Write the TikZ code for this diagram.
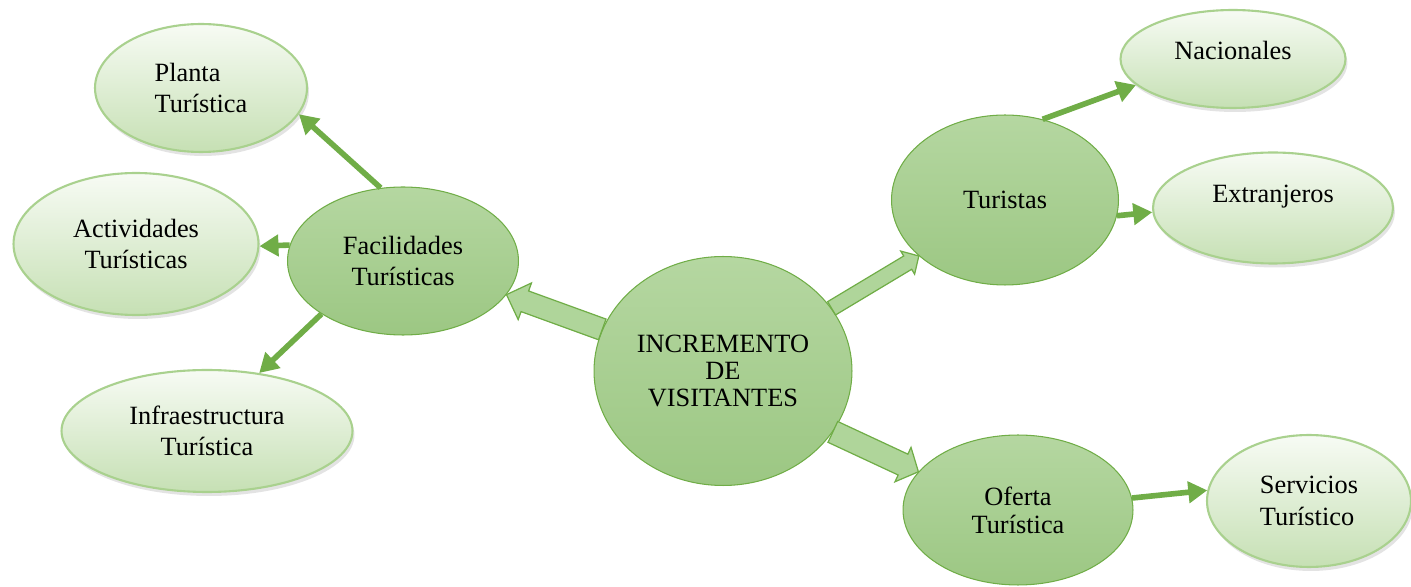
\documentclass[tikz,border=0pt]{standalone}
\usepackage{fontspec}
\setmainfont{Liberation Serif}
\usetikzlibrary{shapes.geometric}
\usetikzlibrary{calc}
\usetikzlibrary{shadows}
\usetikzlibrary{arrows.meta}

\definecolor{darktop}{HTML}{B5D7A1}
\definecolor{darkbot}{HTML}{9CC783}
\definecolor{darkline}{HTML}{70AD47}
\definecolor{lighttop}{HTML}{F7FBF4}
\definecolor{lightbot}{HTML}{C6E0B4}
\definecolor{lightline}{HTML}{A9D18E}
\definecolor{linkgreen}{HTML}{70AD47}
\definecolor{blockfill}{HTML}{AFD59A}

\tikzset{
  mainnode/.style={ellipse, draw=darkline, line width=0.6pt, top color=darktop, bottom color=darkbot,
    inner sep=0pt, align=center, font=\fontsize{15pt}{18pt}\selectfont},
  subnode/.style={ellipse, draw=lightline, line width=1.2pt, top color=lighttop, bottom color=lightbot,
    inner sep=0pt, align=center, font=\fontsize{15pt}{18pt}\selectfont,
    drop shadow={shadow xshift=0.04cm, shadow yshift=-0.08cm, opacity=0.18, fill=black!60}},
  linkarrow/.style={draw=linkgreen, line width=3.2pt, -{Triangle[length=0.38cm, width=0.42cm]}},
  bigarrow/.style={draw=darkline, line width=0.7pt, fill=blockfill, line join=miter}
}

% wide arrow: from, to, name, half shaft, half head, head length
\newcommand{\blockarrow}[6]{%
  \coordinate (#3-base) at ($(#2)!#6!(#1)$);
  \draw[bigarrow] ($(#1)!#4!90:(#2)$) -- ($(#3-base)!#4!90:(#2)$) -- ($(#3-base)!#5!90:(#2)$)
    -- (#2) -- ($(#3-base)!#5!-90:(#2)$) -- ($(#3-base)!#4!-90:(#2)$) -- ($(#1)!#4!-90:(#2)$) -- cycle;
}

\begin{document}
\begin{tikzpicture}[x=0.02cm, y=-0.02cm]
	\useasboundingbox (0,0) rectangle (1411,587);
	% centre
	\node[mainnode, minimum width=5.16cm, minimum height=4.58cm, font=\fontsize{15pt}{15.4pt}\selectfont] (inc) at (723,371) {INCREMENTO\\DE\\VISITANTES};
	\node[mainnode, minimum width=4.62cm, minimum height=2.96cm] (fac) at (403,261) {Facilidades\\Turísticas};
	\node[mainnode, minimum width=4.54cm, minimum height=3.4cm] (tur) at (1005,200) {Turistas};
	\node[mainnode, minimum width=4.6cm, minimum height=3cm, font=\fontsize{15pt}{16pt}\selectfont] (oferta) at (1018,510) {Oferta\\Turística};
	% leaves
	\node[subnode, minimum width=4.24cm, minimum height=2.56cm, align=left] (planta) at (201,88) {Planta\\Turística};
	\node[subnode, minimum width=4.9cm, minimum height=2.84cm] (act) at (136,244) {Actividades\\Turísticas};
	\node[subnode, minimum width=5.82cm, minimum height=2.44cm] (infra) at (207,431) {Infraestructura\\Turística};
	\node[subnode, minimum width=4.5cm, minimum height=1.96cm, text depth=0.36cm] (nac) at (1233,59) {Nacionales};
	\node[subnode, minimum width=4.8cm, minimum height=2.22cm, text depth=0.56cm] (ext) at (1273,208) {Extranjeros};
	\node[subnode, minimum width=4.08cm, minimum height=2.64cm, align=left] (serv) at (1309,501) {Servicios\\Turístico};
	% wide arrows
	\blockarrow{inc.161}{fac.-18}{ba1}{0.22cm}{0.39cm}{0.39cm}
	\blockarrow{inc.30}{tur.213}{ba2}{0.155cm}{0.27cm}{0.26cm}
	\blockarrow{inc.-29}{oferta.159}{ba3}{0.23cm}{0.38cm}{0.34cm}
	% thin arrows
	\draw[linkarrow] (fac.107) -- (planta.-15);
	\draw[linkarrow] (fac.172) -- (act.-1);
	\draw[linkarrow] (fac.213) -- (infra.48);
	\draw[linkarrow] (tur.65) -- (nac.195);
	\draw[linkarrow] (tur.-8) -- (ext.182);
	\draw[linkarrow] (oferta.6) -- (serv.174);
\end{tikzpicture}
\end{document}
